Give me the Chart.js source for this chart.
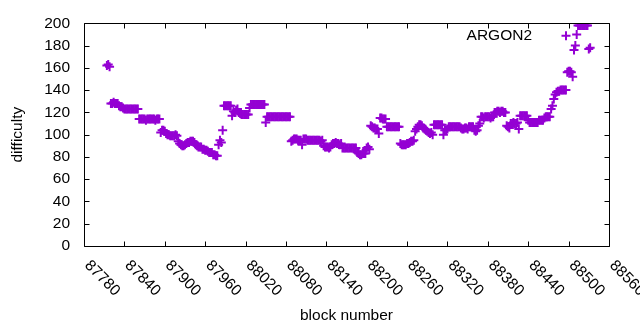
<!DOCTYPE html>
<html>
<head>
<meta charset="utf-8">
<script src="https://cdn.jsdelivr.net/npm/chart.js@4.4.1/dist/chart.umd.min.js"></script>
<style>
  html, body { margin: 0; padding: 0; background: #fff; }
  #chart { display: block; }
</style>
</head>
<body>
<canvas id="chart" width="640" height="330"></canvas>
<script>
// ─── Data ─────────────────────────────────────────────

const seriesLabel = 'ARGON2';
const xTitle = 'block number';
const yTitle = 'difficulty';

// one reading every second block, starting at firstBlock
const firstBlock = 87814;
const blockStep = 2;
const difficulty = [
    162, 163, 161,                                              // 87814
    128, 128, 129, 128, 128, 128,                               // 87820
    126, 125, 125, 124,                                         // 87832
    123, 123, 123, 123, 123, 123, 123, 123, 123, 123, 123,      // 87840
    114, 114, 114, 114, 114, 113, 114, 114, 114, 114, 114, 114, 113, 114, 114, 114, // 87862
    102, 104, 104, 103, 101,                                    // 87894
    100, 100, 99, 99, 99, 99, 100, 99,                          // 87904
    94, 92, 91, 90, 90,                                         // 87920
    91, 92, 93, 93, 94, 94, 94, 93,                             // 87930
    91, 90, 89, 89, 89,                                         // 87946
    87, 87, 86, 86,                                             // 87956
    85, 84, 84, 84,                                             // 87964
    82, 82, 81, 81,                                             // 87972
    91, 95, 93, 104,                                            // 87980
    126, 126, 126, 126, 126, 126,                               // 87988
    117, 121, 120, 122, 123, 120, 119,                          // 88000
    118, 118, 118, 118, 118, 118,                               // 88014
    124,                                                        // 88026
    127, 127, 127, 127, 127, 127, 127, 127, 127, 127, 127,      // 88028
    111,                                                        // 88050
    116, 116, 116, 116, 116, 116, 116, 116, 116, 116, 116, 116, 116, 116, 116, 116, 116, 116, // 88052
    94, 95, 96, 96, 96, 95, 95, 95,                             // 88088
    91,                                                         // 88104
    96, 96, 96, 95, 95, 95, 95, 95, 95, 95, 95, 95, 95, 94, 95, // 88106
    90, 89, 89, 89, 88, 89,                                     // 88136
    91, 92, 92, 93, 92, 92, 91, 92,                             // 88148
    88, 88, 88, 88, 88, 88, 88, 88, 88, 88, 88,                 // 88164
    84, 83, 82, 82, 83, 83, 83,                                 // 88186
    88, 89, 87,                                                 // 88200
    108, 107, 106, 106, 105, 105,                               // 88206
    101,                                                        // 88218
    115, 115, 114, 114, 114,                                    // 88220
    107, 107, 107, 107, 107, 107, 107, 107, 107, 107,           // 88230
    92,                                                         // 88250
    91, 91, 91, 91, 92, 92, 93,                                 // 88252
    94, 94, 95,                                                 // 88266
    103, 105, 107,                                              // 88272
    109, 109, 108,                                              // 88278
    106, 105, 104, 103, 102, 101,                               // 88284
    102, 100,                                                   // 88296
    109, 109, 109, 109, 109, 109, 109,                          // 88300
    100,                                                        // 88314
    104, 104, 105,                                              // 88316
    107, 107, 107, 107, 107, 107, 107, 107, 107,                // 88322
    106, 105, 105, 106, 106, 105,                               // 88340
    107, 107, 107, 107,                                         // 88352
    104, 103, 104,                                              // 88360
    108, 110,                                                   // 88366
    116, 116, 115, 116, 116, 116, 116, 115, 116, 116,           // 88370
    120, 120, 121, 121, 120, 121, 121, 120, 120,                // 88390
    108,                                                        // 88408
    107, 106,                                                   // 88410
    110, 110, 111, 110, 110, 111,                               // 88414
    105,                                                        // 88426
    117, 117, 117, 117, 117, 117,                               // 88428
    113,                                                        // 88440
    111, 111, 111, 111, 111, 111, 111,                          // 88442
    113, 113, 113, 113,                                         // 88456
    115, 116, 116, 116, 116,                                    // 88464
    123, 126, 132, 136,                                         // 88474
    138, 139, 139, 140, 140, 140, 140, 140,                     // 88482
    156, 157, 157, 156, 152,                                    // 88498
    176, 180, 190,                                              // 88508
    198, 198, 198, 198, 198, 198, 198, 198,                     // 88514
    177, 178,                                                   // 88530
];

const xRange = [87780, 88560];
const xStep = 60;
const yRange = [0, 200];
const yStep = 20;

// ─── Styles ───────────────────────────────────────────

const COLOR = '#9400d3';
const FAMILY = "'Liberation Sans', Arial, sans-serif";
const FONT_SIZE = 15.5;
const TIC = 5;

const points = difficulty.map((d, i) => ({ x: firstBlock + i * blockStep, y: d }));

// gnuplot-like box with inward tics, rotated x labels and the key
const gnuplotFrame = {
    id: 'gnuplotFrame',
    afterDraw(chart) {
        const { ctx, chartArea: a, scales: { x, y } } = chart;
        const L = Math.round(a.left) + 0.5;
        const R = Math.round(a.right) + 0.5;
        const T = Math.round(a.top) + 0.5;
        const B = Math.round(a.bottom) + 0.5;

        ctx.save();
        ctx.strokeStyle = '#000';
        ctx.lineWidth = 1;
        ctx.beginPath();
        ctx.rect(L, T, R - L, B - T);
        x.ticks.forEach(t => {
            const px = Math.round(x.getPixelForValue(t.value)) + 0.5;
            ctx.moveTo(px, B); ctx.lineTo(px, B - TIC);
            ctx.moveTo(px, T); ctx.lineTo(px, T + TIC);
        });
        y.ticks.forEach(t => {
            const py = Math.round(y.getPixelForValue(t.value)) + 0.5;
            ctx.moveTo(L, py); ctx.lineTo(L + TIC, py);
            ctx.moveTo(R, py); ctx.lineTo(R - TIC, py);
        });
        ctx.stroke();

        ctx.fillStyle = '#000';
        ctx.font = `${FONT_SIZE}px ${FAMILY}`;
        ctx.textAlign = 'left';
        ctx.textBaseline = 'middle';
        x.ticks.forEach(t => {
            ctx.save();
            ctx.translate(x.getPixelForValue(t.value) + 3, a.bottom + 17);
            ctx.rotate(Math.PI / 4);
            ctx.fillText(String(t.value), 0, 0);
            ctx.restore();
        });

        // key: label then sample
        const ky = a.top + 12.5;
        ctx.textAlign = 'right';
        ctx.fillText(seriesLabel, a.right - 77, ky);
        const kx = a.right - 43;
        ctx.strokeStyle = COLOR;
        ctx.lineWidth = 2;
        ctx.beginPath();
        ctx.moveTo(kx - 4.5, ky); ctx.lineTo(kx + 4.5, ky);
        ctx.moveTo(kx, ky - 4.5); ctx.lineTo(kx, ky + 4.5);
        ctx.stroke();
        ctx.restore();
    },
};

new Chart(document.getElementById('chart'), {
    type: 'scatter',
    data: {
        datasets: [{
            label: seriesLabel,
            data: points,
            pointStyle: 'cross',
            pointRadius: 4.5,
            pointHoverRadius: 4.5,
            pointBorderWidth: 2,
            borderColor: COLOR,
            backgroundColor: COLOR,
            clip: 0,
        }],
    },
    options: {
        responsive: false,
        animation: false,
        devicePixelRatio: 1,
        layout: { padding: { top: 19, right: 31, bottom: 0, left: 0 } },
        plugins: {
            legend: { display: false },
            tooltip: { enabled: false },
        },
        scales: {
            x: {
                type: 'linear',
                min: xRange[0],
                max: xRange[1],
                afterFit: s => { s.height = 84; },
                ticks: { display: false, stepSize: xStep },
                grid: { display: false, drawTicks: false },
                border: { display: false },
                title: {
                    display: true,
                    text: xTitle,
                    color: '#000',
                    font: { family: FAMILY, size: FONT_SIZE },
                    padding: { top: 0, bottom: 5 },
                },
            },
            y: {
                min: yRange[0],
                max: yRange[1],
                afterFit: s => { s.width = 84; },
                ticks: {
                    stepSize: yStep,
                    color: '#000',
                    font: { family: FAMILY, size: FONT_SIZE },
                    padding: 14,
                },
                grid: { display: false, drawTicks: false },
                border: { display: false },
                title: {
                    display: true,
                    text: yTitle,
                    color: '#000',
                    font: { family: FAMILY, size: FONT_SIZE },
                    padding: { top: 8, bottom: 0 },
                },
            },
        },
    },
    plugins: [gnuplotFrame],
});
</script>
</body>
</html>
